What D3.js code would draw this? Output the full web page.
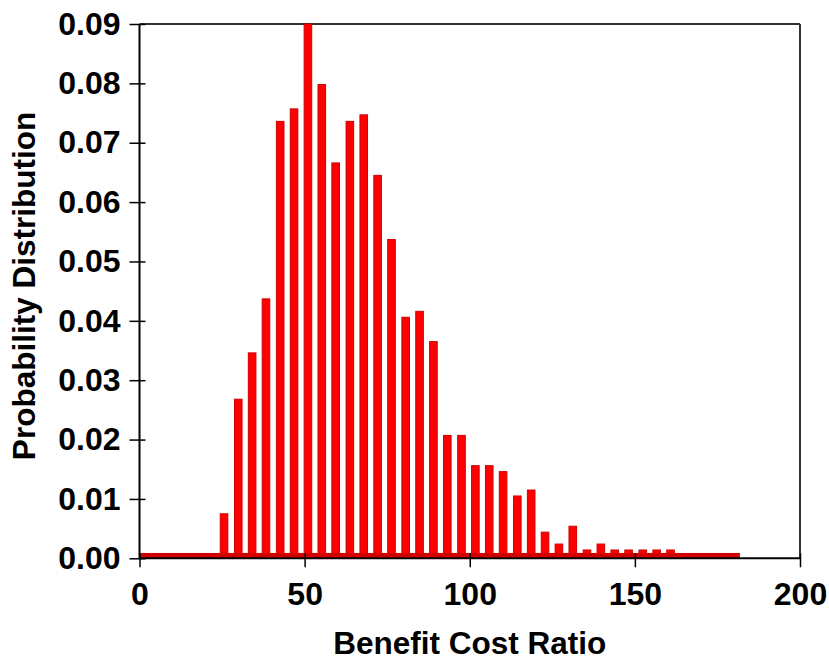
<!DOCTYPE html>
<html>
<head>
<meta charset="utf-8">
<script src="https://cdn.jsdelivr.net/npm/d3@7"></script>
<style>
  html, body { margin: 0; padding: 0; background: #fff; }
  svg { display: block; }
  text { font-family: "Liberation Sans", Arial, sans-serif; font-weight: bold; fill: #000; }
</style>
</head>
<body>
<svg id="chart" width="829" height="663"></svg>
<script>
// ---- data ----
const binCenters = [25.6, 29.9, 34.1, 38.3, 42.6, 46.8, 51.0, 55.2, 59.4, 63.7, 67.9, 72.1, 76.3,
  80.6, 84.8, 89.0, 93.2, 97.5, 101.7, 105.9, 110.1, 114.4, 118.6, 122.8, 127.0, 131.2, 135.5,
  139.7, 143.9, 148.1, 152.4, 156.6, 160.8];
const probabilities = [0.0075, 0.0268, 0.0346, 0.0437, 0.0736, 0.0757, 0.0900, 0.0798, 0.0666,
  0.0736, 0.0747, 0.0645, 0.0537, 0.0406, 0.0416, 0.0365, 0.0207, 0.0207, 0.0156, 0.0156, 0.0146,
  0.0105, 0.0115, 0.0044, 0.0024, 0.0054, 0.0014, 0.0024, 0.0014, 0.0014, 0.0014, 0.0014, 0.0014];
const baseRange = [0, 181.8];      // thin base band along the axis
const baseValue = 0.0009;
const xTicks = [0, 50, 100, 150, 200];
const yTicks = [0, 0.01, 0.02, 0.03, 0.04, 0.05, 0.06, 0.07, 0.08, 0.09];
const xTitle = "Benefit Cost Ratio";
const yTitle = "Probability Distribution";

// ---- layout ----
const mLeft = 139.5, mTop = 24, mRight = 800, mBottom = 558.3;
const barWidthUnits = 2.3;

const svg = d3.select("#chart");
const x = d3.scaleLinear().domain([0, 200]).range([mLeft, mRight]);
const y = d3.scaleLinear().domain([0, 0.09]).range([mBottom, mTop]);

// frame (top & right)
svg.append("line").attr("x1", mLeft).attr("x2", mRight).attr("y1", mTop).attr("y2", mTop)
  .attr("stroke", "#333").attr("stroke-width", 2);
svg.append("line").attr("x1", mRight).attr("x2", mRight).attr("y1", mTop).attr("y2", mBottom)
  .attr("stroke", "#333").attr("stroke-width", 2);

// bars
const data = binCenters.map((c, i) => ({ c, v: probabilities[i] }));
const bw = x(barWidthUnits) - x(0);
svg.append("g").selectAll("rect").data(data).join("rect")
  .attr("x", d => x(d.c) - bw / 2)
  .attr("width", bw)
  .attr("y", d => y(d.v))
  .attr("height", d => y(0) - y(d.v))
  .attr("fill", "#ff0000")
  .attr("stroke", "#d00000")
  .attr("stroke-width", 1);

// base band
svg.append("rect")
  .attr("x", x(baseRange[0])).attr("width", x(baseRange[1]) - x(baseRange[0]))
  .attr("y", y(baseValue)).attr("height", y(0) - y(baseValue))
  .attr("fill", "#d20000");

// axes
const xAxis = d3.axisBottom(x).tickValues(xTicks).tickFormat(d3.format("d")).tickSize(9).tickPadding(15);
const gx = svg.append("g").attr("transform", `translate(0,${mBottom})`).call(xAxis);
gx.select(".domain").attr("stroke", "#000").attr("stroke-width", 2).attr("d", `M${mLeft},0H${mRight}`);
gx.selectAll(".tick line").attr("y1", -5).attr("stroke", "#000").attr("stroke-width", 1.5);
gx.selectAll(".tick text").style("font-size", "32px").style("font-family", "Liberation Sans, Arial, sans-serif").style("font-weight", "bold");

const yAxis = d3.axisLeft(y).tickValues(yTicks).tickFormat(d3.format(".2f")).tickSize(10).tickPadding(9);
const gy = svg.append("g").attr("transform", `translate(${mLeft},0)`).call(yAxis);
gy.select(".domain").attr("stroke", "#000").attr("stroke-width", 2).attr("d", `M0,${mTop}V${mBottom}`);
gy.selectAll(".tick line").attr("x1", 6).attr("stroke", "#000").attr("stroke-width", 1.5);
gy.selectAll(".tick text").style("font-size", "32px").style("font-family", "Liberation Sans, Arial, sans-serif").style("font-weight", "bold");

// titles
svg.append("text").attr("x", x(100)).attr("y", 654).attr("text-anchor", "middle")
  .style("font-size", "31.5px").text(xTitle);
svg.append("text").attr("transform", `translate(35,286) rotate(-90)`).attr("text-anchor", "middle")
  .style("font-size", "31.5px").text(yTitle);
</script>
</body>
</html>
